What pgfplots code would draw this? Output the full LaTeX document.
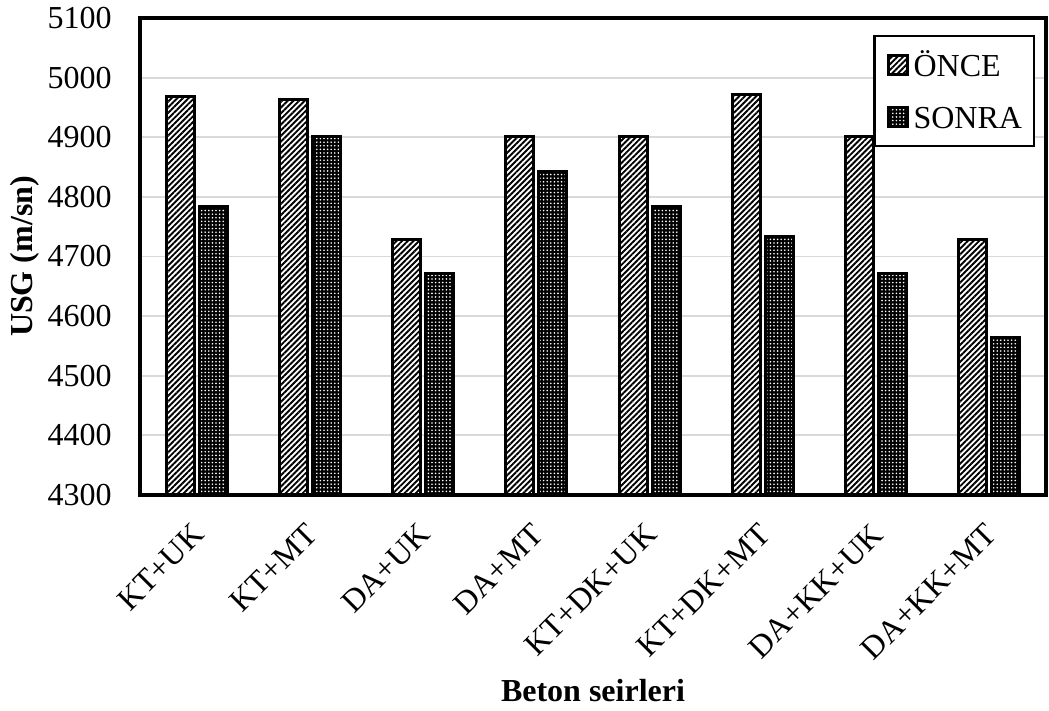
\documentclass[border=0pt]{standalone}
\usepackage{fontspec}
\setmainfont{Liberation Serif}
\usepackage{pgfplots}
\pgfplotsset{compat=1.18}
\usetikzlibrary{patterns.meta}
\begin{document}
\fontsize{16}{19}\selectfont
\begin{tikzpicture}
\useasboundingbox (-70pt,-108pt) rectangle (454.5pt,247.5pt);
\begin{axis}[
 at={(0,0)}, anchor=south west,
 scale only axis, width=453pt, height=238.5pt,
 xmin=-0.5, xmax=7.5, ymin=4300, ymax=5100,
 ytick={4300,4400,...,5100},
 xtick={0,...,7},
 xticklabels={KT+UK,KT+MT,DA+UK,DA+MT,KT+DK+UK,KT+DK+MT,DA+KK+UK,DA+KK+MT},
 ybar=2.5pt, bar width=14pt,
 ymajorgrids, grid style={draw=black!15, line width=0.9pt},
 axis line style={line width=1.7pt},
 major tick length=0pt, tick style={draw=none},
 /pgf/number format/assume math mode=true,
 /pgf/number format/1000 sep={},
 yticklabel style={anchor=east, inner sep=0pt, xshift=-14pt},
 xticklabel style={inner sep=0pt, xshift=1pt, yshift=-17pt, rotate=45, anchor=east},
 xlabel={\textbf{Beton seirleri}}, ylabel={\textbf{USG (m/sn)}},
 xlabel style={at={(axis description cs:0.5,0)}, anchor=center, yshift=-98pt},
 ylabel style={at={(axis description cs:-0.127,0.5)}, anchor=center},
 legend cell align=left,
 legend style={at={(0.988,0.9644)}, anchor=north east, draw=black, line width=1.1pt,
   inner xsep=6pt, inner ysep=6pt, row sep=9pt, column sep=2.5pt,
   nodes={inner sep=0pt, text height=14pt, text depth=3pt}},
 legend image code/.code={\draw[#1] (0pt,-4.75pt) rectangle (9.5pt,4.75pt);},
]
\addplot[draw=black, line width=1.5pt, preaction={fill=white},
  pattern={Lines[angle=45,distance=2pt,line width=0.95pt]}, pattern color=black]
  coordinates {(0,4968) (1,4964) (2,4728) (3,4902) (4,4902) (5,4971) (6,4902) (7,4728)};
\addplot[draw=black, line width=1.5pt, preaction={fill=black},
  pattern={Dots[distance=1.8pt,radius=0.45pt]}, pattern color=white]
  coordinates {(0,4784) (1,4902) (2,4671) (3,4843) (4,4784) (5,4733) (6,4671) (7,4564)};
\legend{ÖNCE,SONRA}
\end{axis}
\end{tikzpicture}
\end{document}
